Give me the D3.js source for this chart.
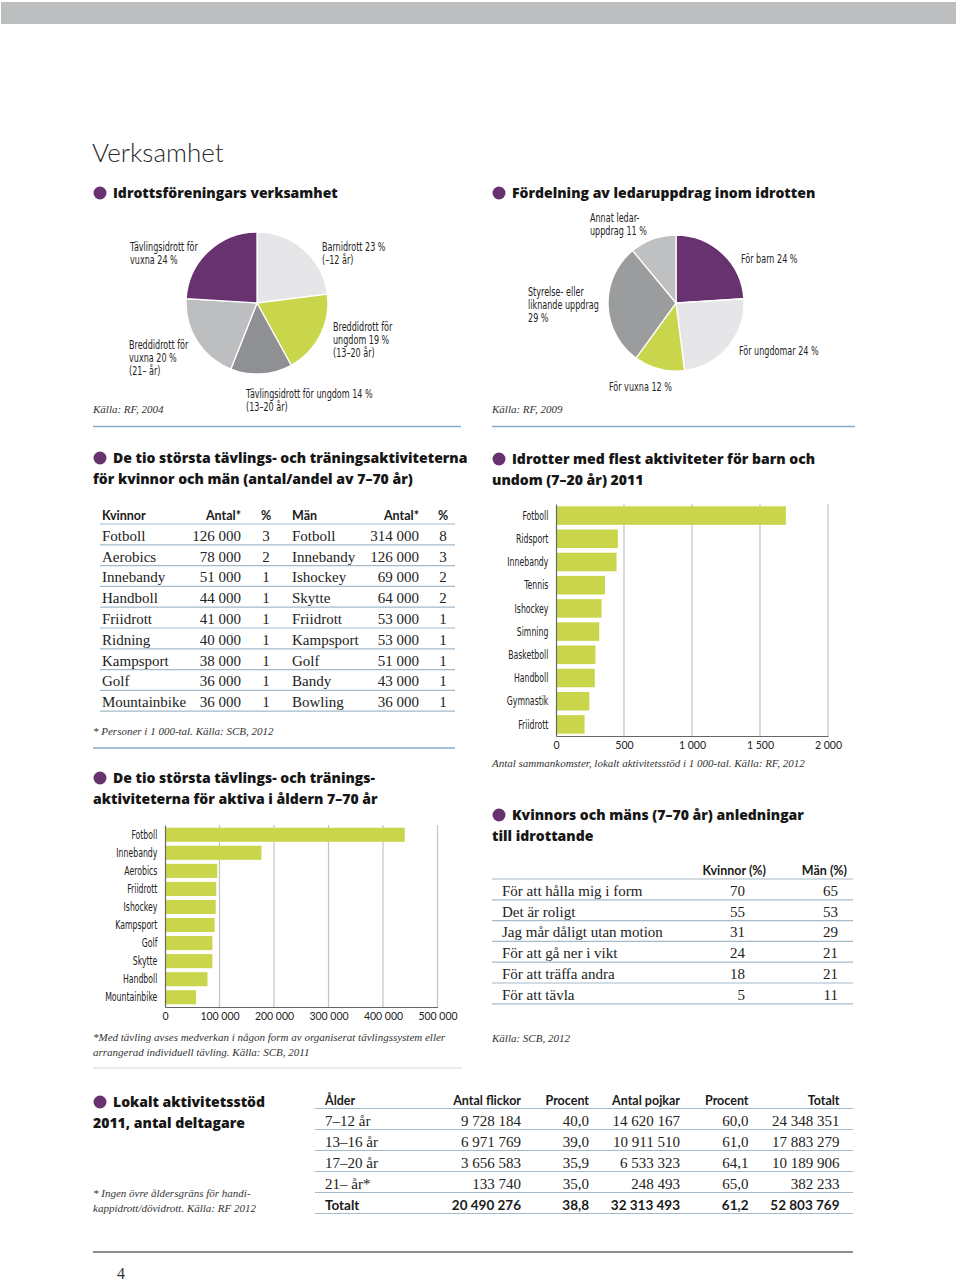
<!DOCTYPE html>
<html>
<head>
<meta charset="utf-8">
<script src="https://cdn.jsdelivr.net/npm/d3@7"></script>
<style>
  body { margin: 0; background: #fff; }
  svg { display: block; }
  .title { font-family: Lato, "Open Sans", sans-serif; font-weight: 300; font-size: 26px; fill: #2a2a2a; }
  .head { font-family: "Open Sans", Lato, sans-serif; font-weight: 800; font-size: 14px; fill: #161616; }
  .narrow { font-family: "Liberation Sans Narrow", "Arial Narrow", "DejaVu Sans Condensed", sans-serif; font-size: 13px; fill: #222; }
  .src { font-family: "Liberation Serif", "DejaVu Serif", serif; font-style: italic; font-size: 11px; fill: #333; }
  .cell { font-family: "Liberation Serif", "DejaVu Serif", serif; font-size: 15px; fill: #222; }
  .th { font-family: Lato, "Open Sans", sans-serif; font-weight: 700; font-size: 12.5px; fill: #1a1a1a; }
</style>
</head>
<body>
<script>
// ---------- data ----------
const clubCats = ["Barnidrott", "Breddidrott för ungdom", "Tävlingsidrott för ungdom", "Breddidrott för vuxna", "Tävlingsidrott för vuxna"];
const clubShare = [23, 19, 14, 20, 24];
const clubLabels = [["Barnidrott {v} %", "(–12 år)"], ["Breddidrott för", "ungdom {v} %", "(13–20 år)"],
  ["Tävlingsidrott för ungdom {v} %", "(13–20 år)"], ["Breddidrott för", "vuxna {v} %", "(21– år)"], ["Tävlingsidrott för", "vuxna {v} %"]];

const leaderCats = ["För barn", "För ungdomar", "För vuxna", "Styrelse- eller liknande uppdrag", "Annat ledaruppdrag"];
const leaderShare = [24, 24, 12, 29, 11];
const leaderLabels = [["För barn {v} %"], ["För ungdomar {v} %"], ["För vuxna {v} %"],
  ["Styrelse- eller", "liknande uppdrag", "{v} %"], ["Annat ledar-", "uppdrag {v} %"]];

const womenSports = ["Fotboll", "Aerobics", "Innebandy", "Handboll", "Friidrott", "Ridning", "Kampsport", "Golf", "Mountainbike"];
const womenCount = [126000, 78000, 51000, 44000, 41000, 40000, 38000, 36000, 36000];
const womenPct = [3, 2, 1, 1, 1, 1, 1, 1, 1];
const menSports = ["Fotboll", "Innebandy", "Ishockey", "Skytte", "Friidrott", "Kampsport", "Golf", "Bandy", "Bowling"];
const menCount = [314000, 126000, 69000, 64000, 53000, 53000, 51000, 43000, 36000];
const menPct = [8, 3, 2, 2, 1, 1, 1, 1, 1];

const youthSports = ["Fotboll", "Ridsport", "Innebandy", "Tennis", "Ishockey", "Simning", "Basketboll", "Handboll", "Gymnastik", "Friidrott"];
const youthMeetings = [1690, 455, 445, 360, 335, 318, 290, 285, 245, 210];
const youthTicks = [0, 500, 1000, 1500, 2000];

const topSports = ["Fotboll", "Innebandy", "Aerobics", "Friidrott", "Ishockey", "Kampsport", "Golf", "Skytte", "Handboll", "Mountainbike"];
const topActive = [440000, 177000, 96000, 94000, 93000, 91000, 87000, 87000, 78000, 57000];
const topTicks = [0, 100000, 200000, 300000, 400000, 500000];

const reasons = ["För att hålla mig i form", "Det är roligt", "Jag mår dåligt utan motion", "För att gå ner i vikt", "För att träffa andra", "För att tävla"];
const reasonsWomen = [70, 55, 31, 24, 18, 5];
const reasonsMen = [65, 53, 29, 21, 21, 11];

const ages = ["7–12 år", "13–16 år", "17–20 år", "21– år*"];
const girls = [9728184, 6971769, 3656583, 133740];
const girlsPct = [40.0, 39.0, 35.9, 35.0];
const boys = [14620167, 10911510, 6533323, 248493];
const boysPct = [60.0, 61.0, 64.1, 65.0];
const ageTotals = [24348351, 17883279, 10189906, 382233];
const grandTotal = ["Totalt", 20490276, 38.8, 32313493, 61.2, 52803769];

// ---------- drawing ----------
const loc = d3.formatLocale({decimal: ",", thousands: " ", grouping: [3], currency: ["", ""]});
const fInt = loc.format(",d");
const fDec = loc.format(".1f");

const purple = "#67326f", lime = "#c9d64c", rule = "#a3bacb", blue = "#86abc9";
const squeeze = 0.69; // condensed look of the original label face

const svg = d3.select("body").append("svg").attr("width", 960).attr("height", 1281);

svg.append("rect").attr("x", 1).attr("y", 2).attr("width", 955).attr("height", 22).attr("fill", "#bdbebf");
svg.append("text").attr("class", "title").attr("x", 92).attr("y", 162).text("Verksamhet");

function header(x0, y, lines) {
  svg.append("circle").attr("cx", x0 + 7).attr("cy", y - 5).attr("r", 6.5).attr("fill", purple);
  lines.forEach((t, i) => {
    svg.append("text").attr("class", "head").attr("x", i === 0 ? x0 + 20 : x0).attr("y", y + i * 20.5).text(t);
  });
}

function hline(x1, x2, y, color, w) {
  svg.append("line").attr("x1", x1).attr("x2", x2).attr("y1", y).attr("y2", y)
    .attr("stroke", color).attr("stroke-width", w || 1.2);
}

function multiline(x, y, lines, v) {
  const t = svg.append("text").attr("class", "narrow")
    .attr("transform", `translate(${x},${y}) scale(${squeeze},1)`);
  lines.forEach((l, i) => t.append("tspan").attr("x", 0).attr("y", i * 13.2).text(l.replace("{v}", v)));
}

function drawPie(cx, cy, r, values, colors, labels, pos) {
  const arcs = d3.pie().sort(null)(values);
  const arc = d3.arc().innerRadius(0).outerRadius(r);
  svg.append("g").attr("transform", `translate(${cx},${cy})`)
    .selectAll("path").data(arcs).join("path")
    .attr("d", arc).attr("fill", (d, i) => colors[i])
    .attr("stroke", "#fff").attr("stroke-width", 1.3);
  labels.forEach((l, i) => multiline(pos[i][0], pos[i][1], l, values[i]));
}

// pie 1
header(93, 198, ["Idrottsföreningars verksamhet"]);
drawPie(257, 303, 71, clubShare, ["#e6e6e8", lime, "#8f9093", "#bdbec0", purple], clubLabels,
  [[322, 251], [333, 331], [246, 398], [129, 349], [130, 251]]);
svg.append("text").attr("class", "src").attr("x", 93).attr("y", 413).text("Källa: RF, 2004");
hline(93, 461, 426.5, blue, 1.6);

// pie 2
header(492, 198, ["Fördelning av ledaruppdrag inom idrotten"]);
drawPie(676, 303, 68, leaderShare, [purple, "#e6e6e8", lime, "#9b9c9e", "#bfc0c2"], leaderLabels,
  [[741, 262.5], [739, 354.5], [609, 390.5], [528, 296], [590, 222]]);
svg.append("text").attr("class", "src").attr("x", 492).attr("y", 413).text("Källa: RF, 2009");
hline(492, 855, 426.5, blue, 1.6);

// table: kvinnor / män
header(93, 463, ["De tio största tävlings- och träningsaktiviteterna", "för kvinnor och män (antal/andel av 7–70 år)"]);
{
  const top = 524, step = 20.8;
  const hy = top - 4;
  [["Kvinnor", 102, "start"], ["Antal*", 241, "end"], ["%", 266, "middle"],
   ["Män", 292, "start"], ["Antal*", 419, "end"], ["%", 443, "middle"]].forEach(h =>
    svg.append("text").attr("class", "th").attr("x", h[1]).attr("y", hy).attr("text-anchor", h[2]).text(h[0]));
  hline(100, 455, top, rule);
  const rowY = d3.scaleLinear().domain([0, 1]).range([top + step, top + 2 * step]);
  const rows = svg.append("g").selectAll("g").data(womenSports).join("g");
  rows.append("text").attr("class", "cell").attr("x", 102).attr("y", (d, i) => rowY(i) - 4).text(d => d);
  rows.append("text").attr("class", "cell").attr("x", 241).attr("text-anchor", "end").attr("y", (d, i) => rowY(i) - 4).text((d, i) => fInt(womenCount[i]));
  rows.append("text").attr("class", "cell").attr("x", 266).attr("text-anchor", "middle").attr("y", (d, i) => rowY(i) - 4).text((d, i) => womenPct[i]);
  rows.append("text").attr("class", "cell").attr("x", 292).attr("y", (d, i) => rowY(i) - 4).text((d, i) => menSports[i]);
  rows.append("text").attr("class", "cell").attr("x", 419).attr("text-anchor", "end").attr("y", (d, i) => rowY(i) - 4).text((d, i) => fInt(menCount[i]));
  rows.append("text").attr("class", "cell").attr("x", 443).attr("text-anchor", "middle").attr("y", (d, i) => rowY(i) - 4).text((d, i) => menPct[i]);
  rows.append("line").attr("x1", 100).attr("x2", 455).attr("y1", (d, i) => rowY(i)).attr("y2", (d, i) => rowY(i))
    .attr("stroke", rule).attr("stroke-width", 1.2);
  svg.append("text").attr("class", "src").attr("x", 93).attr("y", 735).text("* Personer i 1 000-tal. Källa: SCB, 2012");
  hline(93, 455, 748, blue, 1.6);
}

function drawBars(cats, vals, ticks, o) {
  const x = d3.scaleLinear().domain([0, ticks[ticks.length - 1]]).range([o.x0, o.x1]);
  const y = d3.scaleBand().domain(cats).range([o.y0, o.y1]).paddingInner(o.pi).paddingOuter(o.po);
  const g = svg.append("g");
  g.selectAll(".grid").data(ticks.slice(1)).join("line")
    .attr("x1", d => x(d)).attr("x2", d => x(d)).attr("y1", o.y0).attr("y2", o.y1)
    .attr("stroke", "#c4c4c4").attr("stroke-width", 1.2);
  g.selectAll(".bar").data(vals).join("rect")
    .attr("x", x(0)).attr("y", (d, i) => y(cats[i]))
    .attr("width", d => x(d) - x(0)).attr("height", y.bandwidth()).attr("fill", lime);
  const ax = g.append("g").attr("transform", `translate(0,${o.y1})`)
    .call(d3.axisBottom(x).tickValues(ticks).tickFormat(fInt).tickSize(0).tickPadding(6));
  ax.select(".domain").attr("stroke", "#666").attr("stroke-width", 1.2);
  ax.selectAll("text").attr("font-family", "Lato, 'Open Sans', sans-serif").attr("font-size", 10.5).attr("fill", "#222");
  const ay = g.append("g").attr("transform", `translate(${o.x0},0)`)
    .call(d3.axisLeft(y).tickSize(0).tickPadding(11.5));
  ay.select(".domain").attr("stroke", "#666").attr("stroke-width", 1.2);
  ay.selectAll("text").attr("class", "narrow").attr("font-family", null).attr("font-size", null)
    .attr("transform", `scale(${squeeze - 0.025},1)`);
}

// bars: youth
header(492, 464, ["Idrotter med flest aktiviteter för barn och", "undom (7–20 år) 2011"]);
drawBars(youthSports, youthMeetings, youthTicks, {x0: 556, x1: 828, y0: 504, y1: 736, pi: 0.2, po: 0.1});
svg.append("text").attr("class", "src").attr("x", 492).attr("y", 767)
  .text("Antal sammankomster, lokalt aktivitetsstöd i 1 000-tal. Källa: RF, 2012");

// bars: top ten 7-70
header(93, 783, ["De tio största tävlings- och tränings-", "aktiviteterna för aktiva i åldern 7–70 år"]);
drawBars(topSports, topActive, topTicks, {x0: 165, x1: 437.5, y0: 825, y1: 1007, pi: 0.22, po: 0.15});
svg.append("text").attr("class", "src").attr("x", 93).attr("y", 1041)
  .text("*Med tävling avses medverkan i någon form av organiserat tävlingssystem eller");
svg.append("text").attr("class", "src").attr("x", 93).attr("y", 1056)
  .text("arrangerad individuell tävling. Källa: SCB, 2011");
hline(93, 462, 1068, "#cdd9e2", 1);

// table: reasons
header(492, 820, ["Kvinnors och mäns (7–70 år) anledningar", "till idrottande"]);
{
  const top = 879, step = 20.8;
  svg.append("text").attr("class", "th").attr("x", 766).attr("y", top - 4).attr("text-anchor", "end").text("Kvinnor (%)");
  svg.append("text").attr("class", "th").attr("x", 847).attr("y", top - 4).attr("text-anchor", "end").text("Män (%)");
  hline(492, 853, top, rule);
  const rows = svg.append("g").selectAll("g").data(reasons).join("g")
    .attr("transform", (d, i) => `translate(0,${top + (i + 1) * step})`);
  rows.append("text").attr("class", "cell").attr("x", 502).attr("y", -4).text(d => d);
  rows.append("text").attr("class", "cell").attr("x", 745).attr("y", -4).attr("text-anchor", "end").text((d, i) => reasonsWomen[i]);
  rows.append("text").attr("class", "cell").attr("x", 838).attr("y", -4).attr("text-anchor", "end").text((d, i) => reasonsMen[i]);
  rows.append("line").attr("x1", 492).attr("x2", 853).attr("stroke", rule).attr("stroke-width", 1.2);
  svg.append("text").attr("class", "src").attr("x", 492).attr("y", 1042).text("Källa: SCB, 2012");
}

// table: lokalt aktivitetsstöd
header(93, 1107, ["Lokalt aktivitetsstöd", "2011, antal deltagare"]);
svg.append("text").attr("class", "src").attr("x", 93).attr("y", 1197).text("* Ingen övre åldersgräns för handi-");
svg.append("text").attr("class", "src").attr("x", 93).attr("y", 1212).text("kappidrott/dövidrott. Källa: RF 2012");
{
  const top = 1108.5, step = 21;
  const cols = [521, 589, 680, 748.5, 839.5];
  svg.append("text").attr("class", "th").attr("x", 325).attr("y", top - 4).text("Ålder");
  ["Antal flickor", "Procent", "Antal pojkar", "Procent", "Totalt"].forEach((h, i) =>
    svg.append("text").attr("class", "th").attr("x", cols[i]).attr("y", top - 4).attr("text-anchor", "end").text(h));
  hline(315, 853, top, rule);
  const rows = svg.append("g").selectAll("g").data(ages).join("g")
    .attr("transform", (d, i) => `translate(0,${top + (i + 1) * step})`);
  rows.append("text").attr("class", "cell").attr("x", 325).attr("y", -4).text(d => d);
  const colVals = [i => fInt(girls[i]), i => fDec(girlsPct[i]), i => fInt(boys[i]), i => fDec(boysPct[i]), i => fInt(ageTotals[i])];
  colVals.forEach((fn, c) =>
    rows.append("text").attr("class", "cell").attr("x", cols[c]).attr("y", -4).attr("text-anchor", "end").text((d, i) => fn(i)));
  rows.append("line").attr("x1", 315).attr("x2", 853).attr("stroke", rule).attr("stroke-width", 1.2);
  const ty = top + (ages.length + 1) * step;
  svg.append("text").attr("class", "th").attr("x", 325).attr("y", ty - 4).style("font-size", "13.5px").text(grandTotal[0]);
  grandTotal.slice(1).forEach((v, i) =>
    svg.append("text").attr("class", "th").attr("x", cols[i]).attr("y", ty - 4).attr("text-anchor", "end")
      .style("font-size", "13.5px").text(i % 2 === 0 ? fInt(v) : fDec(v)));
  hline(315, 853, ty, rule);
}

hline(93, 853, 1252, "#8e8e90", 2);
svg.append("text").attr("x", 117).attr("y", 1279).attr("font-family", "'Liberation Serif', serif")
  .attr("font-size", 16).attr("fill", "#333").text("4");
</script>
</body>
</html>
